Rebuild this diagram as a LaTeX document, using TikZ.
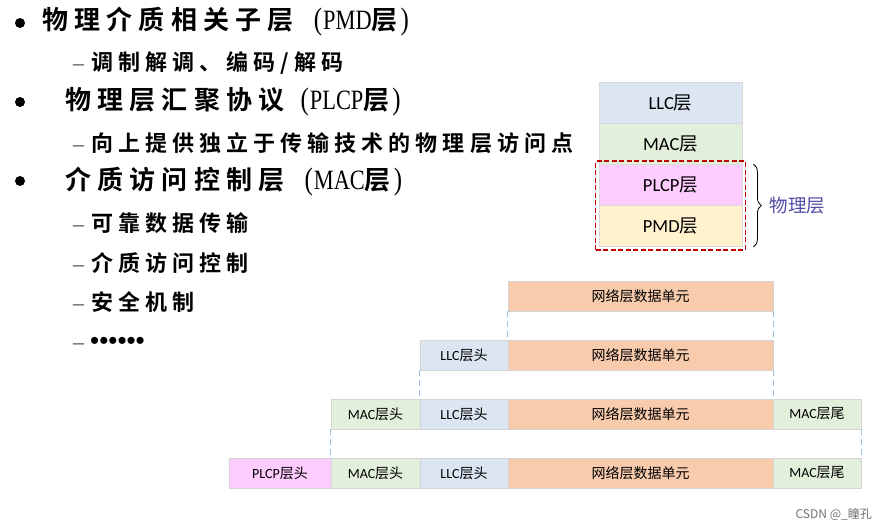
\documentclass[tikz,border=0pt]{standalone}
\usepackage{fontspec}
\setmainfont{Liberation Serif}
\newfontfamily\hcjk[LetterSpace=24]{Noto Sans CJK SC Bold}
\newfontfamily\scjk[LetterSpace=23]{Noto Sans CJK SC Bold}
\newfontfamily\cjk{Noto Sans CJK SC}
\newfontfamily\calib{Carlito}
\newfontfamily\nser[FakeStretch=0.8]{Liberation Serif}
\newfontfamily\lsans{Liberation Sans}
\usetikzlibrary{fit,calc,decorations.pathreplacing}
\definecolor{cNet}{HTML}{F8CBAD}
\definecolor{cLLC}{HTML}{DCE6F2}
\definecolor{cMAC}{HTML}{E2EFDA}
\definecolor{cPLCP}{HTML}{FFCCFF}
\definecolor{cPMD}{HTML}{FFF2CC}
\definecolor{cDash}{HTML}{9DC3E6}
\definecolor{cRed}{HTML}{C00000}
\definecolor{cPhys}{HTML}{4F4CA6}
\newcommand\lab[2]{{\calib #1}{\cjk #2}}
\newcommand\lat[1]{{\fontsize{28}{30}\selectfont\nser #1}}
\newcommand\lpar{{\fontsize{31}{31}\selectfont\nser (}\hspace{1pt}}
\newcommand\rpar{\hspace{3pt}{\fontsize{31}{31}\selectfont\nser )}}
\tikzset{
  box/.style={draw=black!17, line width=0.8pt, inner sep=0pt, minimum height=30pt, font=\fontsize{14}{16}\selectfont},
  stackbox/.style={draw=black!15, line width=0.8pt, inner sep=0pt, minimum width=143pt, minimum height=41pt, font=\fontsize{18.5}{20}\selectfont},
  head/.style={anchor=west, inner sep=0pt, font=\fontsize{26}{28}\selectfont},
  sub/.style={anchor=west, inner sep=0pt, font=\fontsize{22}{26}\selectfont},
  link/.style={cDash, line width=1.2pt, dash pattern=on 6pt off 4pt},
}
\begin{document}
\begin{tikzpicture}[x=1pt,y=-1pt]
\fill[white] (0,0) rectangle (886,530);
\useasboundingbox (0,0) rectangle (886,530);
% bullets
\fill (20,23) circle (5);
\fill (20,102) circle (5);
\fill (20,181) circle (5);
% headings
\node[head] (h1) at (42,22) {{\hcjk 物理介质相关子层}\hspace{20pt}\lpar\lat{PMD}{\hcjk 层}\rpar};
\node[sub] (s1) at (73,63) {{\color{black!75}\rmfamily –}\hspace{7pt}{\scjk 调制解调、编码/解码}};
\node[head] (h2) at (65,102) {{\hcjk 物理层汇聚协议}\hspace{16pt}\lpar\lat{PLCP}{\hcjk 层}\rpar};
\node[sub] (s2) at (73,143) {{\color{black!75}\rmfamily –}\hspace{7pt}{\scjk 向上提供独立于传输技术的物理层访问点}};
\node[head] (h3) at (65,182) {{\hcjk 介质访问控制层}\hspace{20pt}\lpar\lat{MAC}{\hcjk 层}\rpar};
\node[sub] (s3) at (73,223) {{\color{black!75}\rmfamily –}\hspace{7pt}{\scjk 可靠数据传输}};
\node[sub] (s4) at (73,263) {{\color{black!75}\rmfamily –}\hspace{7pt}{\scjk 介质访问控制}};
\node[sub] (s5) at (73,302) {{\color{black!75}\rmfamily –}\hspace{7pt}{\scjk 安全机制}};
\node[sub] (s6) at (73,343) {{\color{black!75}\rmfamily –}\hspace{6pt}{\fontsize{26}{28}\selectfont\lsans ••••••}};
% stack
\node[stackbox, fill=cLLC]  (llc)  at (670.5,103) {\lab{LLC}{层}};
\node[stackbox, fill=cMAC]  (mac)  at (670.5,144) {\lab{MAC}{层}};
\node[stackbox, fill=cPLCP] (plcp) at (670.5,185) {\lab{PLCP}{层}};
\node[stackbox, fill=cPMD]  (pmd)  at (670.5,226) {\lab{PMD}{层}};
\node[fit=(plcp)(pmd), inner sep=3pt, draw=cRed, line width=1.5pt, dash pattern=on 5pt off 2.5pt] (phys) {};
\draw[decorate, decoration={brace, amplitude=8pt}, line width=0.8pt]
  ($(plcp.north east)+(11,0)$) -- coordinate[pos=0.5] (tip) ($(pmd.south east)+(11,0)$);
\node[anchor=west, inner sep=0pt, text=cPhys, font=\fontsize{18.5}{20}\selectfont\cjk] (physlab) at ($(tip)+(16,0)$) {物理层};
% frames
\node[box, fill=cNet, minimum width=265pt] (r1n) at (640.5,296) {\cjk 网络层数据单元};
\node[box, fill=cLLC, minimum width=88pt]  (r2l) at (464,355) {\lab{LLC}{层头}};
\node[box, fill=cNet, minimum width=265pt] (r2n) at (640.5,355) {\cjk 网络层数据单元};
\node[box, fill=cMAC, minimum width=89pt]  (r3m) at (375.5,414) {\lab{MAC}{层头}};
\node[box, fill=cLLC, minimum width=88pt]  (r3l) at (464,414) {\lab{LLC}{层头}};
\node[box, fill=cNet, minimum width=265pt] (r3n) at (640.5,414) {\cjk 网络层数据单元};
\node[box, fill=cMAC, minimum width=88pt]  (r3t) at (817,414) {\lab{MAC}{层尾}};
\node[box, fill=cPLCP, minimum width=102pt] (r4p) at (280,473) {\lab{PLCP}{层头}};
\node[box, fill=cMAC, minimum width=89pt]  (r4m) at (375.5,473) {\lab{MAC}{层头}};
\node[box, fill=cLLC, minimum width=88pt]  (r4l) at (464,473) {\lab{LLC}{层头}};
\node[box, fill=cNet, minimum width=265pt] (r4n) at (640.5,473) {\cjk 网络层数据单元};
\node[box, fill=cMAC, minimum width=88pt]  (r4t) at (817,473) {\lab{MAC}{层尾}};
\draw[link] (r1n.south west) -- (r2n.north west);
\draw[link] (r1n.south east) -- (r2n.north east);
\draw[link] (r2n.south east) -- (r3n.north east);
\draw[link] (r2l.south west) -- (r3l.north west);
\draw[link] (r3m.south west) -- (r4m.north west);
\draw[link] (r3t.south east) -- (r4t.north east);
% watermark
\node[anchor=east, inner sep=0pt, text=black!55, font=\fontsize{12}{14}\selectfont\cjk] (wm) at (872,514) {CSDN @\_瞳孔};
\end{tikzpicture}
\end{document}
